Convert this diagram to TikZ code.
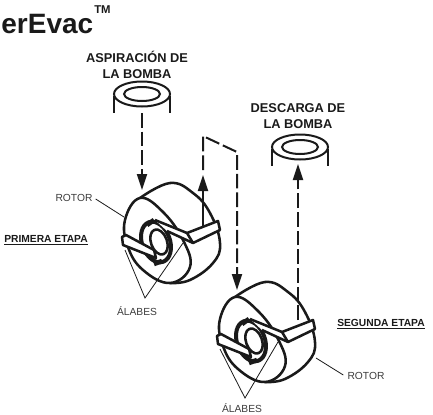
\documentclass[tikz,border=0pt]{standalone}
\usepackage{fontspec}
\setmainfont{Liberation Sans}
\usepackage{tikz}
\usetikzlibrary{arrows.meta, calc}
\definecolor{ink}{HTML}{1A1A1A}
\tikzset{
  heavy/.style={line width=1.9pt, draw=ink, line join=round},
  flow/.style={line width=1.5pt, draw=ink, dash pattern=on 11pt off 3pt},
  tip/.style={-{Triangle[length=12pt, width=7.5pt]}},
  leader/.style={line width=0.6pt, draw=ink},
  head/.style={font=\bfseries\fontsize{9.6}{11.6}\selectfont, align=center, text=ink, inner sep=0pt},
  stage/.style={font=\bfseries\fontsize{7.7}{9}\selectfont, text=ink, inner sep=0pt},
  part/.style={font=\fontsize{7.7}{9}\selectfont, text=ink!85, inner sep=0pt},
  duct/.pic={
    \draw[ink, line width=1.5pt] (-28,2) -- (-28,19);
    \draw[ink, line width=1.5pt] (28,2) -- (28,19);
    \draw[ink, line width=1.5pt, fill=white] (0,0) ellipse [x radius=28, y radius=12.5];
    \draw[ink, line width=1.5pt] (0,0) ellipse [x radius=18, y radius=7];
    \coordinate (-foot) at (0,19);
  },
  rotor/.pic={
    % drum behind the face
    \draw[heavy, fill=white] plot[smooth, tension=0.7] coordinates
      {(-17,-42) (13,-57) (36,-47) (53,-27) (63,3) (56,23) (33,40) (13,43)};
    \draw[heavy, fill=white] plot[smooth cycle, tension=0.7] coordinates
      {(-17,-42) (6,-28) (26,0) (33,27) (13,43) (-14,30) (-29,7) (-32,-20)};
    % hub
    \draw[ink, line width=3pt, fill=white] (-1,2) ellipse [x radius=14, y radius=21, rotate=20];
    \draw[heavy, fill=white] (2,2) ellipse [x radius=8, y radius=13, rotate=20];
    \draw[ink, line width=3.5pt] (-10,-15) -- (-3,-20);
    \draw[ink, line width=3.5pt] (-3,24) -- (5,21);
    % blades
    \fill[white] (-2,-20) -- (30,-7) -- (36,3) -- (10,-9) -- cycle;
    \draw[heavy] (-2,-20) -- (30,-7);
    \draw[heavy] (10,-9) -- (36,3);
    \draw[heavy, fill=white] (30,-7) -- (61,-19) -- (63,-10) -- (36,3) -- cycle;
    \draw[heavy, fill=white] (-35,-3) -- (-31,-5) -- (-3,10) -- (-1,18) -- (-34,5) -- cycle;
    \coordinate (-left) at (-32,10);
    \coordinate (-right) at (26,3);
    \coordinate (-west) at (-33,-23);
    \coordinate (-south) at (64,19);
  }
}
\begin{document}
\begin{tikzpicture}[x=0.75pt, y=-0.75pt]
  \useasboundingbox (0,0) rectangle (433,415);

  \node[anchor=base east, font=\bfseries\fontsize{21}{24}\selectfont, text=ink, inner sep=0pt] (title) at (93.5,33) {erEvac};
  \node[anchor=base west, font=\bfseries\fontsize{8.5}{9}\selectfont, text=ink, inner sep=0pt] (tm) at (94,13) {TM};

  \node[head] (suction) at (137,65) {ASPIRACIÓN DE\\LA BOMBA};
  \node[head] (discharge) at (298,116) {DESCARGA DE\\LA BOMBA};

  \pic (ductA) at (142,94) {duct};
  \pic (ductB) at (300,147) {duct};
  \pic (rotorA) at (157,240) {rotor};
  \pic (rotorB) at (252,339) {rotor};

  % flow
  \coordinate (upA) at (203,228);
  \coordinate (bendA) at (203,136);
  \coordinate (bendB) at (237,152);
  \coordinate (downB) at (237,290);
  \coordinate (upB) at (298,320);
  \draw[flow, tip] (ductA-foot) -- (142,190);
  \draw[ink, line width=1.4pt, tip] (upA) -- (203,175);
  \draw[flow, tip] (203,170) -- (bendA) -- (bendB) -- (downB);
  \draw[flow, tip] (upB) -- (298,164);

  % labels
  \node[part] (rotorAlabel) at (74,198) {ROTOR};
  \node[part] (rotorBlabel) at (366,376) {ROTOR};
  \node[part] (bladesA) at (137,311) {ÁLABES};
  \node[part] (bladesB) at (242,408) {ÁLABES};
  \node[stage] (stageA) at (46,240) {\underline{PRIMERA ETAPA}};
  \node[stage] (stageB) at (381,324) {\underline{SEGUNDA ETAPA}};

  \draw[leader] (rotorAlabel.east) ++(3,1) -- (rotorA-west);
  \draw[leader] (rotorB-south) -- ($(rotorBlabel.west)+(-4,-1)$);
  \coordinate (forkA) at (145,298);
  \coordinate (forkB) at (245,398);
  \draw[leader] (rotorA-left) -- (forkA) -- (rotorA-right);
  \draw[leader] (rotorB-left) -- (forkB) -- (rotorB-right);
\end{tikzpicture}
\end{document}
